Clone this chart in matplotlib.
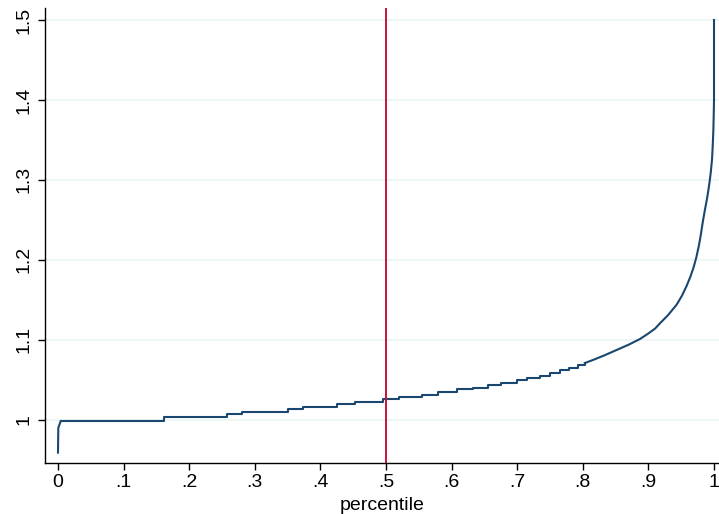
import numpy as np
import matplotlib
matplotlib.use('Agg')
import matplotlib.pyplot as plt

plt.rcParams['font.family'] = ['Liberation Sans', 'DejaVu Sans']

# lower part of the quantile curve: flat steps (percentile where the level starts, level)
start_pct = [0.0, 0.0005, 0.004]
start_q = [0.959, 0.990, 0.998]
step_pct = [0.004, 0.162, 0.258, 0.280, 0.350, 0.374, 0.426, 0.453, 0.495, 0.520,
            0.555, 0.580, 0.608, 0.632, 0.656, 0.676, 0.699, 0.715, 0.735, 0.750,
            0.765, 0.779, 0.792, 0.803]
step_q = [0.998, 1.004, 1.0075, 1.0104, 1.0134, 1.0165, 1.0196, 1.0225, 1.0259, 1.0284,
          1.031, 1.0346, 1.0384, 1.0404, 1.0437, 1.0459, 1.0496, 1.0525, 1.0554, 1.059,
          1.062, 1.0654, 1.068, 1.071]
# upper tail, smooth
curve_pct = [0.803, 0.816, 0.834, 0.852, 0.870, 0.887, 0.900, 0.910, 0.918, 0.930,
             0.943, 0.951, 0.958, 0.964, 0.969, 0.973, 0.977, 0.980, 0.983, 0.986,
             0.989, 0.991, 0.993, 0.995, 0.997, 0.998, 0.999, 0.9995, 1.0, 1.0]
curve_q = [1.071, 1.075, 1.081, 1.0875, 1.094, 1.101, 1.108, 1.114, 1.121, 1.131,
           1.144, 1.155, 1.167, 1.179, 1.191, 1.203, 1.218, 1.232, 1.248, 1.262,
           1.275, 1.285, 1.296, 1.309, 1.326, 1.342, 1.362, 1.38, 1.40, 1.50]

median_pct = 0.5
xticks = [0, .1, .2, .3, .4, .5, .6, .7, .8, .9, 1]
xlabels = ['0', '.1', '.2', '.3', '.4', '.5', '.6', '.7', '.8', '.9', '1']
yticks = [1, 1.1, 1.2, 1.3, 1.4, 1.5]
ylabels = ['1', '1.1', '1.2', '1.3', '1.4', '1.5']

navy = '#1a476f'

fig = plt.figure(figsize=(7.19, 5.14), dpi=100)
ax = fig.add_axes([45/719, 1-463/514, 1-45/719, (463-8)/514])

for y in yticks:
    ax.axhline(y, color='#eaf2f3', lw=1.1, zorder=0)

ax.plot(start_pct, start_q, color=navy, lw=1.5, solid_joinstyle='round')
ax.plot(step_pct, step_q, color=navy, lw=1.5, drawstyle='steps-post')
ax.plot(curve_pct, curve_q, color=navy, lw=1.5, solid_joinstyle='round')

ax.axvline(median_pct, color='#cf1040', lw=1.4)

ax.set_xlim(-0.0198, 1.0076)
ax.set_ylim(0.946, 1.515)
ax.set_xticks(xticks)
ax.set_xticklabels(xlabels)
ax.set_yticks(yticks)
ax.set_yticklabels(ylabels, rotation=90, va='center')
ax.tick_params(axis='both', direction='out', length=5, width=1, labelsize=14, color='black')
ax.tick_params(axis='x', pad=3)
ax.tick_params(axis='y', pad=4)
ax.set_xlabel('percentile', fontsize=14, labelpad=4.5)

ax.spines['top'].set_visible(False)
ax.spines['right'].set_visible(False)
ax.spines['left'].set_linewidth(1)
ax.spines['bottom'].set_linewidth(1)

fig.savefig('out.png', dpi=100)
